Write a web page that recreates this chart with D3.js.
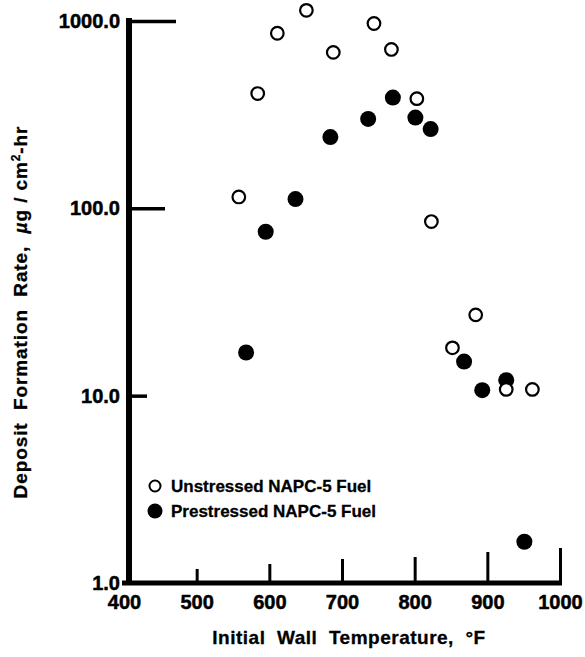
<!DOCTYPE html>
<html>
<head>
<meta charset="utf-8">
<script src="https://cdn.jsdelivr.net/npm/d3@7"></script>
<style>
  html, body { margin: 0; padding: 0; background: #fff; }
  svg { display: block; font-family: "Liberation Sans", Arial, Helvetica, sans-serif; }
</style>
</head>
<body>
<svg id="chart" width="585" height="657"></svg>
<script>
// Initial wall temperature (°F) and deposit formation rate (µg/cm²-hr)
const unstressedTemp = [558, 584, 611, 651, 688, 744, 768, 803, 823, 852, 884, 926, 962];
const unstressedRate = [115, 410, 860, 1140, 680, 970, 705, 385, 85, 18, 27, 10.8, 10.8];

const prestressedTemp = [568, 595, 636, 684, 736, 770, 801, 822, 868, 893, 926, 951];
const prestressedRate = [17, 75, 112, 240, 300, 390, 305, 265, 15.2, 10.7, 12.1, 1.66];

const xTicks = [400, 500, 600, 700, 800, 900, 1000];
const xTickLabels = ["400", "500", "600", "700", "800", "900", "1000"];
const yTicks = [1, 10, 100, 1000];
const yTickLabels = ["1.0", "10.0", "100.0", "1000.0"];

const seriesNames = ["Unstressed NAPC-5 Fuel", "Prestressed NAPC-5 Fuel"];

// Tick lengths (px) as drawn on the axes
const xTickLen = [0, 14, 19, 24, 26, 31, 35];
const yTickLen = [0, 18, 36, 47];

const svg = d3.select("#chart");

const x = d3.scaleLinear().domain([400, 1000]).range([124, 560]);
const y = d3.scaleLog().domain([1, 1000]).range([583, 21]);

function heavyLabel(sel, size) {
  sel.attr("fill", "#000")
    .attr("stroke", "#000").attr("stroke-width", 0.5)
    .style("font-size", size + "px").style("font-weight", "bold");
}

// X axis: heavy baseline with upward ticks
const xAxis = svg.append("g")
  .attr("transform", `translate(0,${y(1)})`)
  .call(d3.axisBottom(x).tickValues(xTicks).tickSize(0).tickPadding(12)
    .tickFormat((d, i) => xTickLabels[i]));
xAxis.select(".domain").remove();
xAxis.append("line")
  .attr("x1", x(400) - 2).attr("x2", x(1000) + 2)
  .attr("y1", 0).attr("y2", 0)
  .attr("stroke", "#000").attr("stroke-width", 5);
xAxis.selectAll(".tick line")
  .attr("y2", (d, i) => -xTickLen[i])
  .attr("stroke", "#000").attr("stroke-width", 3);
xAxis.selectAll(".tick text").call(heavyLabel, 20);

// Y axis: heavy vertical line with ticks pointing right
const yAxis = svg.append("g")
  .attr("transform", `translate(${x(400) + 5},0)`)
  .call(d3.axisLeft(y).tickValues(yTicks).tickSize(0).tickPadding(9)
    .tickFormat((d, i) => yTickLabels[i]));
yAxis.select(".domain").remove();
yAxis.append("line")
  .attr("x1", 0).attr("x2", 0)
  .attr("y1", y(1000) - 3).attr("y2", y(1) + 2)
  .attr("stroke", "#000").attr("stroke-width", 6);
yAxis.selectAll(".tick line")
  .attr("x2", (d, i) => yTickLen[i])
  .attr("stroke", "#000").attr("stroke-width", 3.5);
yAxis.selectAll(".tick text").call(heavyLabel, 20);

// Axis titles
svg.append("text")
  .attr("x", 349).attr("y", 644)
  .attr("text-anchor", "middle")
  .attr("stroke", "#000").attr("stroke-width", 0.3)
  .style("font-size", "19px").style("font-weight", "bold")
  .style("letter-spacing", "0.5px")
  .style("white-space", "pre")
  .text("Initial  Wall  Temperature,  °F");

const yTitle = svg.append("text")
  .attr("transform", "translate(27,312) rotate(-90)")
  .attr("text-anchor", "middle")
  .attr("stroke", "#000").attr("stroke-width", 0.3)
  .style("font-size", "19px").style("font-weight", "bold")
  .style("letter-spacing", "0.9px")
  .style("white-space", "pre");
yTitle.append("tspan").text("Deposit  Formation  Rate,  ");
yTitle.append("tspan").style("font-style", "italic").text("µ");
yTitle.append("tspan").text("g / cm");
yTitle.append("tspan").attr("dy", -7).style("font-size", "12px").text("2");
yTitle.append("tspan").attr("dy", 7).text("-hr");

// Data points: filled first, open (white-filled) on top
const prestressed = prestressedTemp.map((t, i) => ({ t, r: prestressedRate[i] }));
const unstressed = unstressedTemp.map((t, i) => ({ t, r: unstressedRate[i] }));

svg.append("g").selectAll("circle").data(prestressed).join("circle")
  .attr("cx", d => x(d.t)).attr("cy", d => y(d.r))
  .attr("r", 8).attr("fill", "#000");

svg.append("g").selectAll("circle").data(unstressed).join("circle")
  .attr("cx", d => x(d.t)).attr("cy", d => y(d.r))
  .attr("r", 6.3).attr("fill", "#fff")
  .attr("stroke", "#000").attr("stroke-width", 2.2);

// Legend
const legend = svg.append("g").attr("transform", "translate(155,486)");
legend.append("circle").attr("cx", 0).attr("cy", 0).attr("r", 5.5)
  .attr("fill", "#fff").attr("stroke", "#000").attr("stroke-width", 2);
legend.append("circle").attr("cx", 0).attr("cy", 25).attr("r", 7.5)
  .attr("fill", "#000");
legend.selectAll("text").data(seriesNames).join("text")
  .attr("x", 16).attr("y", (d, i) => i * 25 + 6)
  .attr("stroke", "#000").attr("stroke-width", 0.3)
  .style("font-size", "17px").style("font-weight", "bold")
  .text(d => d);
</script>
</body>
</html>
